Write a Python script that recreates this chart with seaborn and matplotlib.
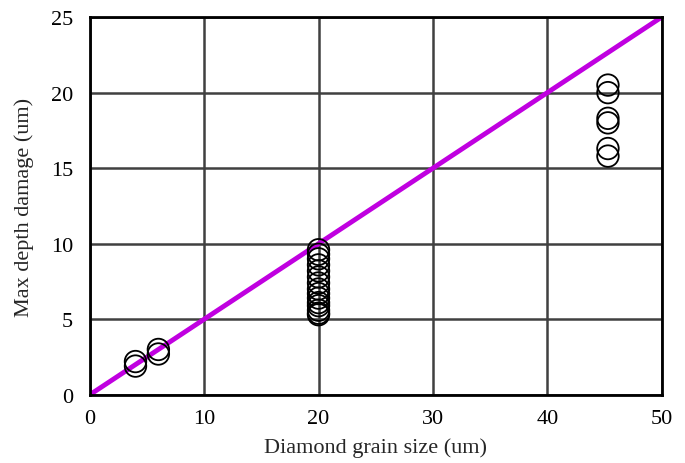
import matplotlib.pyplot as plt
import numpy as np
import pandas as pd
import seaborn as sns

grain_size = [4, 4, 6, 6,
              20, 20, 20, 20, 20, 20, 20, 20, 20, 20, 20, 20, 20, 20, 20,
              45.3, 45.3, 45.3, 45.3, 45.3, 45.3]
max_depth = [2.2, 1.9, 3.0, 2.7,
             9.6, 9.3, 9.0, 8.6, 8.2, 7.8, 7.4, 7.0, 6.7, 6.4, 6.1, 5.9, 5.6, 5.4, 5.3,
             20.5, 20.0, 18.3, 18.0, 16.3, 15.8]
fit_x = [0, 50]
fit_y = [0, 25]

x_ticks = [0, 10, 20, 30, 40, 50]
y_ticks = [0, 5, 10, 15, 20, 25]

df = pd.DataFrame({"grain": grain_size, "depth": max_depth})

sns.set_style("white")
plt.rcParams['font.family'] = ['Liberation Serif', 'DejaVu Serif']

fig = plt.figure(figsize=(6.85, 4.64), dpi=100)
fig.subplots_adjust(left=0.131, right=0.966, top=0.961, bottom=0.147)
ax = fig.add_subplot(111)

ax.grid(True, color='#404040', linewidth=1.8)
ax.set_axisbelow(True)

sns.lineplot(x=fit_x, y=fit_y, ax=ax, color='#c000e0', linewidth=3.5, zorder=2)
sns.scatterplot(data=df, x="grain", y="depth", ax=ax, s=240, marker='o',
                facecolors='none', edgecolor='black', linewidth=1.3, zorder=3)

ax.set_xlim(0, 50)
ax.set_ylim(0, 25)
ax.set_xticks(x_ticks)
ax.set_yticks(y_ticks)
ax.tick_params(axis='both', which='major', labelsize=16, length=0, colors='black')
ax.tick_params(axis='x', pad=10)
ax.tick_params(axis='y', pad=12)
ax.set_xlabel('Diamond grain size (um)', fontsize=16, labelpad=7)
ax.set_ylabel('Max depth damage (um)', fontsize=16, labelpad=12)
for sp in ax.spines.values():
    sp.set_color('black')
    sp.set_linewidth(2)

plt.savefig('out.png', dpi=100, facecolor='w')
plt.close('all')
